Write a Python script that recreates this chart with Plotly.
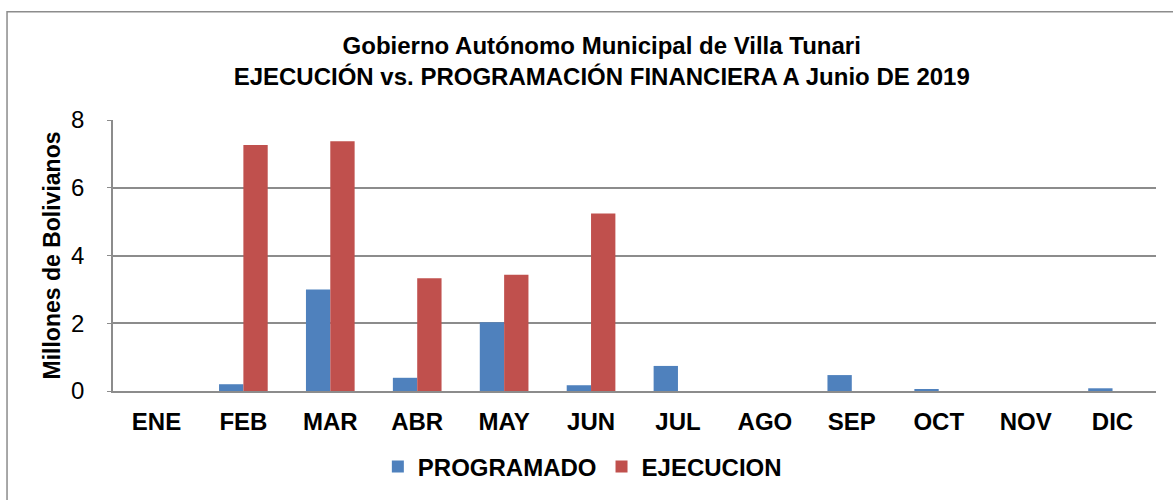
import plotly.graph_objects as go

meses = ["ENE", "FEB", "MAR", "ABR", "MAY", "JUN", "JUL", "AGO", "SEP", "OCT", "NOV", "DIC"]
programado = [0, 0.20, 3.00, 0.39, 2.03, 0.17, 0.74, 0, 0.47, 0.05, 0, 0.08]
ejecucion = [0, 7.26, 7.37, 3.33, 3.43, 5.24, 0, 0, 0, 0, 0, 0]

FONT = "Liberation Sans, Arial, sans-serif"
GRID = "#8c8c8c"

fig = go.Figure()
fig.add_trace(go.Bar(x=meses, y=programado, name="PROGRAMADO",
                     marker=dict(color="#4F81BD", line=dict(width=0))))
fig.add_trace(go.Bar(x=meses, y=ejecucion, name="EJECUCION",
                     marker=dict(color="#C0504D", line=dict(width=0))))

fig.update_layout(
    width=1173, height=500,
    margin=dict(l=113, r=17, t=120, b=109, autoexpand=False),
    paper_bgcolor="white", plot_bgcolor="white",
    barmode="group", bargap=0.44, bargroupgap=0,
    font=dict(family=FONT, color="black"),
    title=dict(text="<b>Gobierno Autónomo Municipal de Villa Tunari<br>EJECUCIÓN vs. PROGRAMACIÓN FINANCIERA A Junio DE 2019</b>",
               x=0.513, xanchor="center", xref="container", y=0.893, yanchor="middle",
               font=dict(size=24, family=FONT, color="black")),
    legend=dict(orientation="h", x=0.45, xanchor="center", y=-0.28, yanchor="middle",
                font=dict(size=24, family=FONT, color="black", weight="bold"),
                itemclick=False, traceorder="normal"),
    showlegend=True,
)
fig.update_xaxes(
    showline=True, linecolor=GRID, linewidth=2,
    tickfont=dict(size=24, family=FONT, color="black", weight="bold"),
    ticks="", ticklabelstandoff=8, showgrid=False,
)
fig.update_yaxes(
    range=[0, 8], dtick=2, showgrid=True, gridcolor=GRID, gridwidth=1.5,
    showline=True, linecolor=GRID, linewidth=1.5,
    ticks="outside", ticklen=4, tickcolor=GRID,
    tickfont=dict(size=24, family=FONT, color="black"),
    ticklabelstandoff=18, zeroline=False,
    title=dict(text="<b>Millones de Bolivianos</b>", font=dict(size=23, family=FONT, color="black"), standoff=4),
)
# outer chart border
fig.add_shape(type="rect", xref="paper", yref="paper",
              x0=-0.1016, x1=1.2, y0=-0.6, y1=1.3996,
              line=dict(color="#8c8c8c", width=1.5), fillcolor="rgba(0,0,0,0)", layer="below")

fig.write_html("out.html", config={"displayModeBar": False},
               post_script="document.body.style.margin='0';document.body.style.padding='0';")
